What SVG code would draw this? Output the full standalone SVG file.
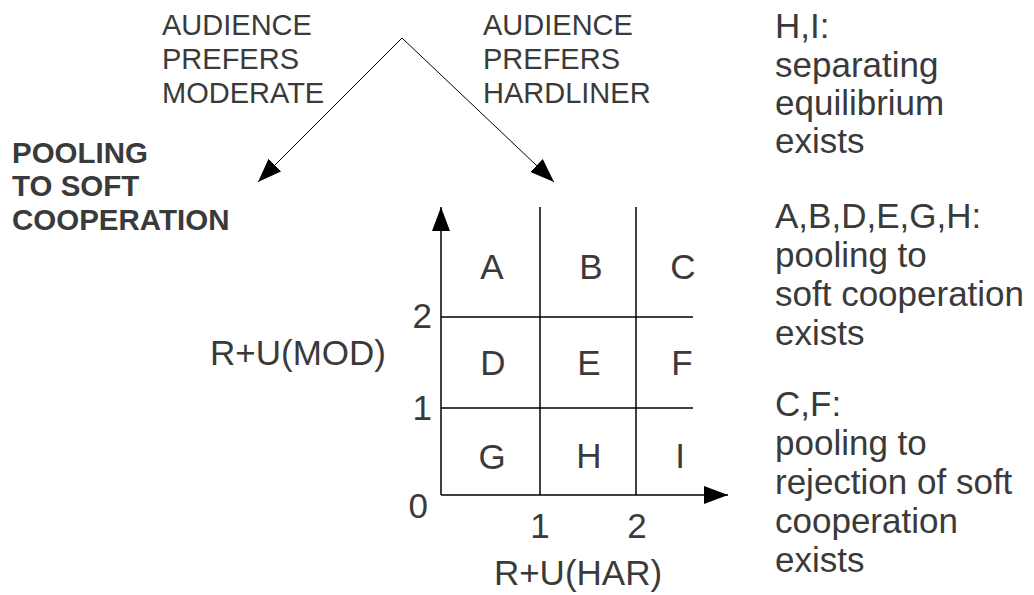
<svg xmlns="http://www.w3.org/2000/svg" width="1034" height="595" viewBox="0 0 1034 595">
<style>
text{font-family:"Liberation Sans",Arial,sans-serif;fill:#3a3a3a}
.top{font-size:29px}
.bold{font-size:29.5px;font-weight:bold}
.big{font-size:35px}
.mid{text-anchor:middle}
.end{text-anchor:end}
.grid{stroke:#000;stroke-width:1.5;fill:none}
.conn{stroke:#000;stroke-width:1;fill:none}
</style>
<defs>
<marker id="ah" viewBox="0 0 24 18" refX="24" refY="9" markerWidth="24" markerHeight="18" markerUnits="userSpaceOnUse" orient="auto">
<path d="M0,0 L24,9 L0,18 Z" fill="#000"/>
</marker>
</defs>
<rect width="1034" height="595" fill="#fff"/>
<g id="label-moderate">
<text class="top" x="162" y="35">AUDIENCE</text>
<text class="top" x="162" y="69">PREFERS</text>
<text class="top" x="162" y="103">MODERATE</text>
</g>
<g id="label-hardliner">
<text class="top" x="483" y="35">AUDIENCE</text>
<text class="top" x="483" y="69">PREFERS</text>
<text class="top" x="483" y="103">HARDLINER</text>
</g>
<g id="label-pooling">
<text class="bold" x="12" y="163">POOLING</text>
<text class="bold" x="12" y="196">TO SOFT</text>
<text class="bold" x="12" y="230">COOPERATION</text>
</g>
<g id="grid">
<line class="grid" x1="540" y1="207" x2="540" y2="495"/>
<line class="grid" x1="636" y1="207" x2="636" y2="495"/>
<line class="grid" x1="441" y1="317" x2="693" y2="317"/>
<line class="grid" x1="441" y1="408" x2="693" y2="408"/>
<text class="big mid" x="492" y="279">A</text>
<text class="big mid" x="591" y="279">B</text>
<text class="big mid" x="683" y="279">C</text>
<text class="big mid" x="493" y="375">D</text>
<text class="big mid" x="589" y="375">E</text>
<text class="big mid" x="682" y="375">F</text>
<text class="big mid" x="492" y="469">G</text>
<text class="big mid" x="589" y="468">H</text>
<text class="big mid" x="680" y="468">I</text>
</g>
<g id="axis-labels">
<text class="big end" x="432" y="328">2</text>
<text class="big end" x="432" y="420">1</text>
<text class="big end" x="428" y="518">0</text>
<text class="big mid" x="540" y="538">1</text>
<text class="big mid" x="637" y="538">2</text>
<text class="big mid" x="578" y="585">R+U(HAR)</text>
<text class="big" x="210" y="365">R+U(MOD)</text>
</g>
<g id="legend-hi">
<text class="big" x="775" y="38">H,I:</text>
<text class="big" x="775" y="77">separating</text>
<text class="big" x="775" y="115">equilibrium</text>
<text class="big" x="775" y="153">exists</text>
</g>
<g id="legend-pooling-soft">
<text class="big" x="775" y="228">A,B,D,E,G,H:</text>
<text class="big" x="775" y="267">pooling to</text>
<text class="big" x="775" y="306">soft cooperation</text>
<text class="big" x="775" y="345">exists</text>
</g>
<g id="legend-pooling-reject">
<text class="big" x="775" y="416">C,F:</text>
<text class="big" x="775" y="455">pooling to</text>
<text class="big" x="775" y="494">rejection of soft</text>
<text class="big" x="775" y="533">cooperation</text>
<text class="big" x="775" y="572">exists</text>
</g>
<g id="connectors">
<line class="conn" x1="402" y1="38" x2="258" y2="182" marker-end="url(#ah)"/>
<line class="conn" x1="402" y1="38" x2="554" y2="182" marker-end="url(#ah)"/>
<line class="grid" x1="441" y1="495" x2="441" y2="207" marker-end="url(#ah)"/>
<line class="grid" x1="441" y1="495" x2="728" y2="495" marker-end="url(#ah)"/>
</g>
</svg>
